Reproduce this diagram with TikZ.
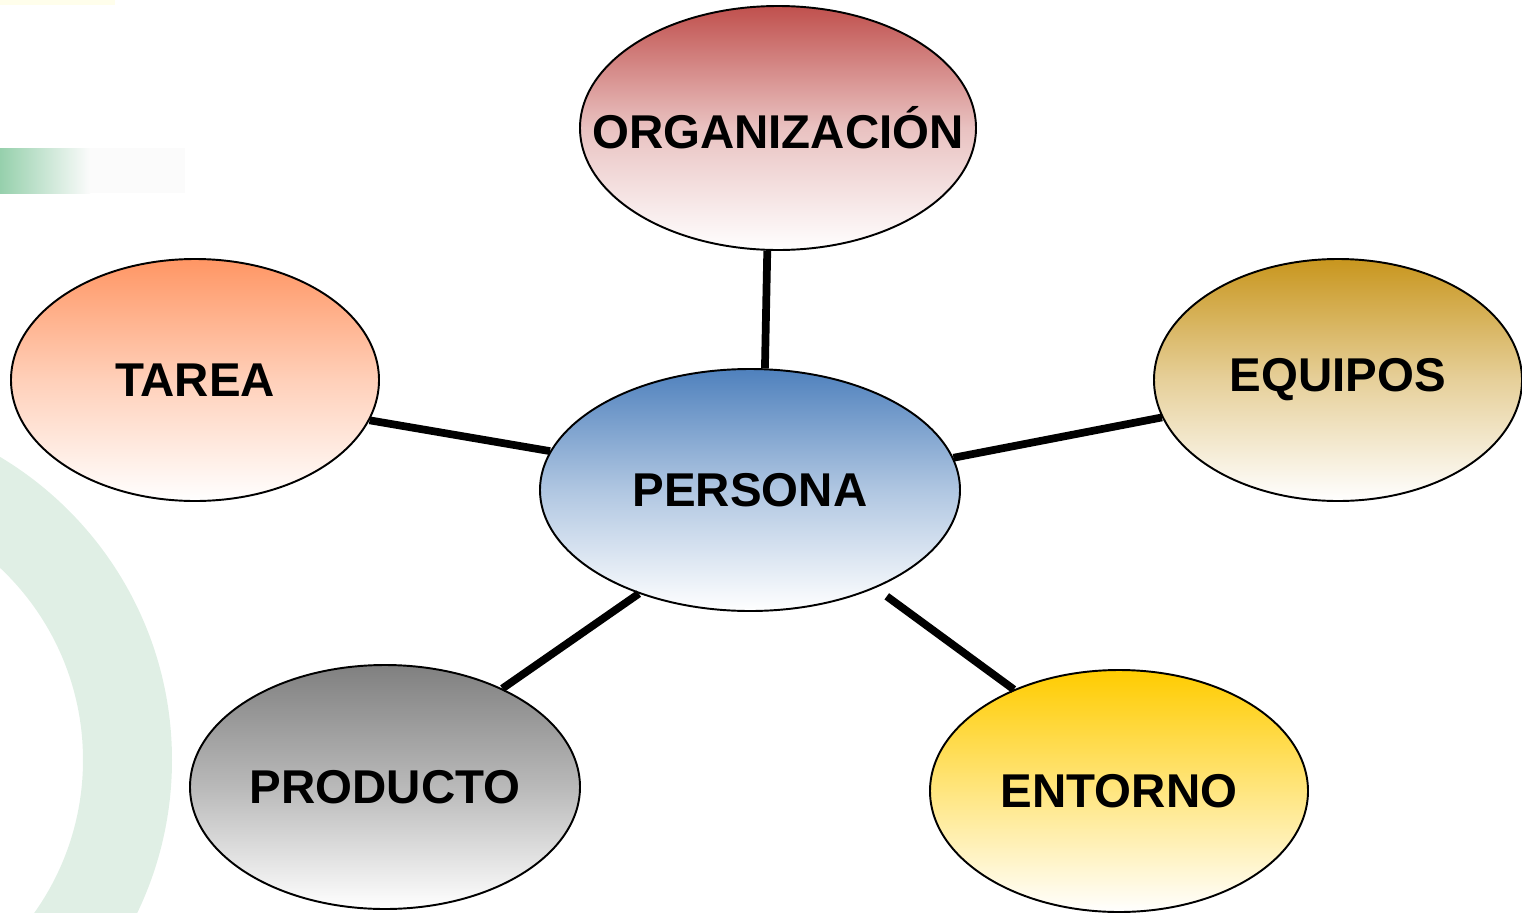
\documentclass[tikz,border=0pt]{standalone}
\usepackage{fontspec}
\setmainfont{Liberation Sans}
\usetikzlibrary{shapes.geometric}
\definecolor{orgc}{RGB}{192,80,77}
\definecolor{tarc}{RGB}{255,150,100}
\definecolor{equc}{RGB}{200,150,30}
\definecolor{perc}{RGB}{79,129,189}
\definecolor{proc}{RGB}{128,128,128}
\definecolor{entc}{RGB}{255,204,0}
\definecolor{ringc}{RGB}{224,239,229}
\definecolor{barc}{RGB}{150,208,172}
\newcommand{\bubtext}[1]{\makebox[0pt]{#1}}
\tikzset{
  bubble/.style={ellipse, draw=black, line width=1.1pt, inner sep=0pt,
    font=\fontsize{27}{32}\selectfont\bfseries, text=black},
  conn/.style={line width=4.4pt, black},
}
\begin{document}
\begin{tikzpicture}[x=0.02cm, y=-0.02cm]
\useasboundingbox (0,0) rectangle (1522,913);
% background decorations
\fill[ringc, even odd rule] (-181,760) circle[radius=353] (-181,760) circle[radius=264];
\shade[left color=barc, right color=white!97!gray] (0,148) rectangle (90,193);
\fill[white!97!gray] (90,148) rectangle (185,193);
\fill[yellow!8] (0,0) rectangle (115,5);
% nodes
\node[bubble, minimum width=396*0.02cm, minimum height=244*0.02cm,
  top color=orgc, bottom color=white, middle color=orgc!35!white] (org) at (778,128) {\bubtext{ORGANIZACIÓN}};
\node[bubble, minimum width=368*0.02cm, minimum height=242*0.02cm,
  top color=tarc, bottom color=white, middle color=tarc!45!white] (tar) at (195,380) {\bubtext{TAREA}};
\node[bubble, minimum width=368*0.02cm, minimum height=242*0.02cm,
  top color=equc, bottom color=white, middle color=equc!45!white] (equ) at (1338,380) {\bubtext{EQUIPOS}};
\node[bubble, minimum width=420*0.02cm, minimum height=242*0.02cm,
  top color=perc, bottom color=white, middle color=perc!45!white] (per) at (750,490) {\bubtext{PERSONA}};
\node[bubble, minimum width=390*0.02cm, minimum height=244*0.02cm,
  top color=proc, bottom color=white, middle color=proc!55!white] (pro) at (385,787) {\bubtext{PRODUCTO}};
\node[bubble, minimum width=378*0.02cm, minimum height=242*0.02cm,
  top color=entc, bottom color=white, middle color=entc!50!white] (ent) at (1119,791) {\bubtext{ENTORNO}};
% connectors
\draw[conn] (org.265.6) -- (per.83);
\draw[conn] (tar.347.7) -- (per.169.1);
\draw[conn] (equ.192.25) -- (per.9.8);
\draw[conn] (pro.40.2) -- (per.223.9);
\draw[conn, shorten >=0.28cm] (ent.136.1) -- (per.322);
\end{tikzpicture}
\end{document}
